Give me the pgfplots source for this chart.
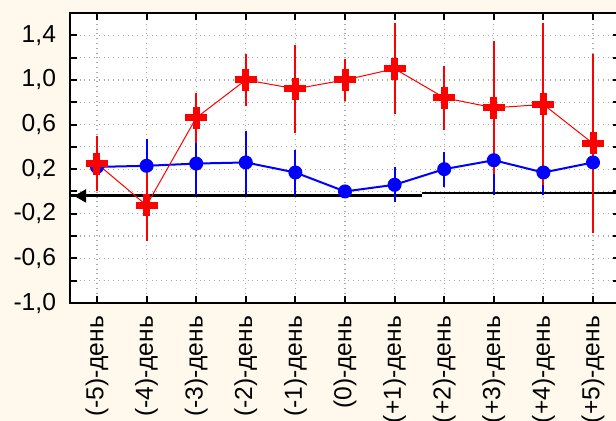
\documentclass[border=0pt]{standalone}
\usepackage{pgfplots}
\pgfplotsset{compat=1.18}
\usepackage{fontspec}
\setmainfont{Liberation Sans}
\definecolor{bg}{RGB}{255,249,237}
\definecolor{gridc}{RGB}{170,170,170}
\pgfplotstableread{
x y e
0 0.25 0.21
1 -0.125 0.28
2 0.66 0.19
3 1.00 0.20
4 0.92 0.36
5 1.00 0.15
6 1.10 0.37
7 0.84 0.25
8 0.75 0.56
9 0.78 0.69
10 0.43 0.77
}\redtab
\pgfplotstableread{
x y e
0 0.22 0.15
1 0.23 0.20
2 0.25 0.25
3 0.26 0.25
4 0.17 0.17
5 0.00 0.02
6 0.06 0.12
7 0.20 0.12
8 0.28 0.28
9 0.17 0.17
10 0.26 0.26
}\bluetab
\begin{document}
\begin{tikzpicture}[x=0.5pt,y=0.5pt]
\fill[bg] (0,0) rectangle (616,421);
\begin{axis}[
  at={(35pt,59pt)}, anchor=south west,
  scale only axis, width=275pt, height=145pt,
  xmin=-0.544, xmax=10.544, ymin=-1, ymax=1.6,
  axis background/.style={fill=white},
  axis line style={black, line width=1pt},
  xtick={0,...,10},
  xticklabels={(-5)-день,(-4)-день,(-3)-день,(-2)-день,(-1)-день,(0)-день,(+1)-день,(+2)-день,(+3)-день,(+4)-день,(+5)-день},
  ytick={-1,-0.6,-0.2,0.2,0.6,1.0,1.4},
  minor ytick={-0.8,-0.4,0,0.4,0.8,1.2},
  tick align=inside, major tick length=3.5pt, minor tick length=3.5pt,
  tick style={black, line width=1pt},
  grid=both,
  major grid style={gridc, dotted, line width=0.6pt},
  minor grid style={gridc, dotted, line width=0.6pt},
  ticklabel style={font=\fontsize{12.3}{14}\selectfont, text=black},
  /pgf/number format/fixed,
  /pgf/number format/fixed zerofill,
  /pgf/number format/precision=1,
  /pgf/number format/use comma,
  /pgf/number format/assume math mode=true,
  yticklabel style={xshift=-3.5pt},
  xticklabel style={rotate=90, anchor=east, xshift=-3pt},
]
\addplot[black, line width=1.2pt, forget plot] coordinates {(-0.544,-0.036) (6.55,-0.036)};
\addplot[black, line width=1.2pt, forget plot] coordinates {(6.55,-0.012) (10.544,-0.012)};
\addplot[only marks, black, mark=triangle*, mark size=3.5pt, mark options={rotate=90}] coordinates {(-0.3,-0.04)};
\addplot[blue, line width=1pt, mark=*, mark size=3pt,
  error bars/.cd, y dir=both, y explicit,
  error bar style={blue, line width=1pt},
  error mark options={blue, line width=1pt, mark size=2pt}]
  table[x=x, y=y, y error=e] {\bluetab};
\addplot[red, line width=0.5pt, mark=+, mark size=5.5pt, mark options={line width=3.5pt, solid},
  error bars/.cd, y dir=both, y explicit,
  error bar style={red, line width=1pt},
  error mark options={red, line width=1pt, mark size=2pt}]
  table[x=x, y=y, y error=e] {\redtab};
\end{axis}
\pgfresetboundingbox
\path[use as bounding box] (0,0) rectangle (616,421);
\end{tikzpicture}
\end{document}
